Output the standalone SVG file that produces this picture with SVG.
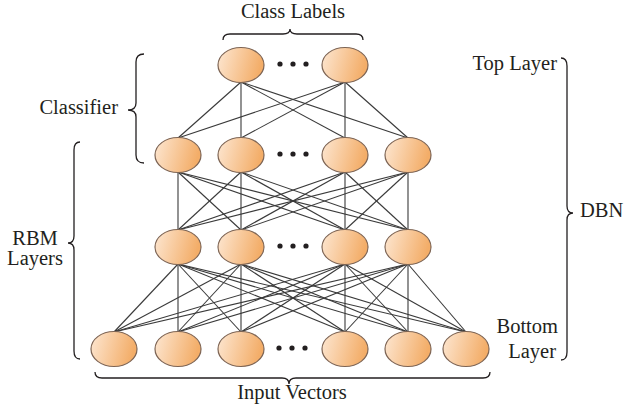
<svg xmlns="http://www.w3.org/2000/svg" width="625" height="419" viewBox="0 0 625 419">
<defs>
<linearGradient id="g" x1="0" y1="0" x2="1" y2="0.2">
<stop offset="0" stop-color="#fde7d2"/>
<stop offset="1" stop-color="#f3ad68"/>
</linearGradient>
<style>
.n{fill:url(#g);stroke:#7d6454;stroke-width:1.2}
.c line{stroke:#3a3a3a;stroke-width:1.1}
.t{font-family:"Liberation Serif",serif;font-size:20.5px;fill:#231f20}
.b{fill:none;stroke:#231f20;stroke-width:1.3}
.d{fill:#231f20}
</style>
</defs>
<rect width="625" height="419" fill="#ffffff"/>
<g id="connectors" class="c">
<line x1="241" y1="82" x2="178" y2="138"/><line x1="241" y1="82" x2="241" y2="138"/><line x1="241" y1="82" x2="345" y2="138"/><line x1="241" y1="82" x2="408" y2="138"/>
<line x1="345" y1="82" x2="178" y2="138"/><line x1="345" y1="82" x2="241" y2="138"/><line x1="345" y1="82" x2="345" y2="138"/><line x1="345" y1="82" x2="408" y2="138"/>
<line x1="178" y1="172" x2="178" y2="230"/><line x1="178" y1="172" x2="241" y2="230"/><line x1="178" y1="172" x2="345" y2="230"/><line x1="178" y1="172" x2="408" y2="230"/>
<line x1="241" y1="172" x2="178" y2="230"/><line x1="241" y1="172" x2="241" y2="230"/><line x1="241" y1="172" x2="345" y2="230"/><line x1="241" y1="172" x2="408" y2="230"/>
<line x1="345" y1="172" x2="178" y2="230"/><line x1="345" y1="172" x2="241" y2="230"/><line x1="345" y1="172" x2="345" y2="230"/><line x1="345" y1="172" x2="408" y2="230"/>
<line x1="408" y1="172" x2="178" y2="230"/><line x1="408" y1="172" x2="241" y2="230"/><line x1="408" y1="172" x2="345" y2="230"/><line x1="408" y1="172" x2="408" y2="230"/>
<line x1="178" y1="264" x2="114" y2="332"/><line x1="178" y1="264" x2="178" y2="332"/><line x1="178" y1="264" x2="241" y2="332"/><line x1="178" y1="264" x2="345" y2="332"/><line x1="178" y1="264" x2="408" y2="332"/><line x1="178" y1="264" x2="466" y2="332"/>
<line x1="241" y1="264" x2="114" y2="332"/><line x1="241" y1="264" x2="178" y2="332"/><line x1="241" y1="264" x2="241" y2="332"/><line x1="241" y1="264" x2="345" y2="332"/><line x1="241" y1="264" x2="408" y2="332"/><line x1="241" y1="264" x2="466" y2="332"/>
<line x1="345" y1="264" x2="114" y2="332"/><line x1="345" y1="264" x2="178" y2="332"/><line x1="345" y1="264" x2="241" y2="332"/><line x1="345" y1="264" x2="345" y2="332"/><line x1="345" y1="264" x2="408" y2="332"/><line x1="345" y1="264" x2="466" y2="332"/>
<line x1="408" y1="264" x2="114" y2="332"/><line x1="408" y1="264" x2="178" y2="332"/><line x1="408" y1="264" x2="241" y2="332"/><line x1="408" y1="264" x2="345" y2="332"/><line x1="408" y1="264" x2="408" y2="332"/><line x1="408" y1="264" x2="466" y2="332"/>
</g>
<g id="top-layer">
<ellipse class="n" cx="241" cy="65" rx="23" ry="17.5"/>
<circle class="d" cx="280" cy="64" r="2.6"/><circle class="d" cx="293" cy="64" r="2.6"/><circle class="d" cx="306" cy="64" r="2.6"/>
<ellipse class="n" cx="345" cy="65" rx="23" ry="17.5"/>
</g>
<g id="layer-2">
<ellipse class="n" cx="178" cy="155" rx="23" ry="17.5"/>
<ellipse class="n" cx="241" cy="155" rx="23" ry="17.5"/>
<circle class="d" cx="280" cy="154" r="2.6"/><circle class="d" cx="293" cy="154" r="2.6"/><circle class="d" cx="306" cy="154" r="2.6"/>
<ellipse class="n" cx="345" cy="155" rx="23" ry="17.5"/>
<ellipse class="n" cx="408" cy="155" rx="23" ry="17.5"/>
</g>
<g id="layer-3">
<ellipse class="n" cx="178" cy="247" rx="23" ry="17.5"/>
<ellipse class="n" cx="241" cy="247" rx="23" ry="17.5"/>
<circle class="d" cx="280" cy="246" r="2.6"/><circle class="d" cx="293" cy="246" r="2.6"/><circle class="d" cx="306" cy="246" r="2.6"/>
<ellipse class="n" cx="345" cy="247" rx="23" ry="17.5"/>
<ellipse class="n" cx="408" cy="247" rx="23" ry="17.5"/>
</g>
<g id="bottom-layer">
<ellipse class="n" cx="114" cy="349" rx="23" ry="17.5"/>
<ellipse class="n" cx="178" cy="349" rx="23" ry="17.5"/>
<ellipse class="n" cx="241" cy="349" rx="23" ry="17.5"/>
<circle class="d" cx="279" cy="348" r="2.6"/><circle class="d" cx="292" cy="348" r="2.6"/><circle class="d" cx="305" cy="348" r="2.6"/>
<ellipse class="n" cx="345" cy="349" rx="23" ry="17.5"/>
<ellipse class="n" cx="408" cy="349" rx="23" ry="17.5"/>
<ellipse class="n" cx="466" cy="349" rx="23" ry="17.5"/>
</g>
<g id="class-labels">
<path class="b" d="M223,40 Q223,34 230,34 L283,34 Q290,34 290,29 Q290,34 297,34 L356,34 Q363,34 363,40"/>
<text class="t" x="293" y="18" text-anchor="middle">Class Labels</text>
</g>
<g id="classifier">
<path class="b" d="M144,54 Q136,54 136,62 L136,103 Q136,110 128,110 Q136,110 136,117 L136,155 Q136,163 144,163"/>
<text class="t" x="118" y="114" text-anchor="end">Classifier</text>
</g>
<g id="rbm-layers">
<path class="b" d="M80,142 Q74,142 74,150 L74,236 Q74,243 68,243 Q74,243 74,250 L74,351 Q74,359 80,359"/>
<text class="t" x="35" y="245" text-anchor="middle">RBM</text>
<text class="t" x="35" y="265" text-anchor="middle">Layers</text>
</g>
<g id="dbn">
<path class="b" d="M561,58 Q567,58 567,66 L567,206 Q567,213 573,213 Q567,213 567,220 L567,352 Q567,360 561,360"/>
<text class="t" x="557" y="70" text-anchor="end">Top Layer</text>
<text class="t" x="580" y="217">DBN</text>
<text class="t" x="558" y="333" text-anchor="end">Bottom</text>
<text class="t" x="556" y="358" text-anchor="end">Layer</text>
</g>
<g id="input-vectors">
<path class="b" d="M95,372 Q95,378 102,378 L282,378 Q289,378 289,384 Q289,378 296,378 L483,378 Q490,378 490,372"/>
<text class="t" x="292" y="399" text-anchor="middle">Input Vectors</text>
</g>
</svg>
